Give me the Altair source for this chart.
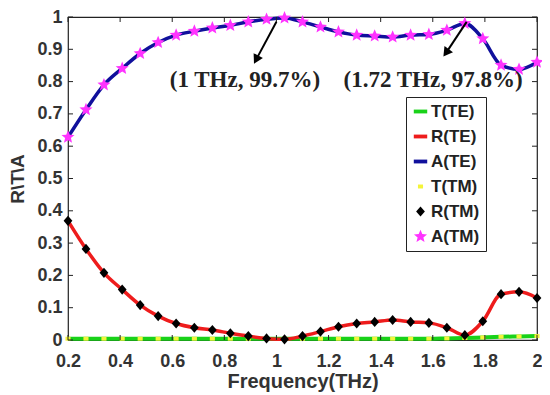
import math
import altair as alt
import pandas as pd

# Frequency samples (THz)
freq = [0.2, 0.269, 0.338, 0.408, 0.477, 0.546, 0.615, 0.685, 0.754, 0.823,
        0.892, 0.962, 1.031, 1.1, 1.169, 1.238, 1.308, 1.377, 1.446, 1.515,
        1.585, 1.654, 1.723, 1.792, 1.862, 1.931, 2.0]

# TE mode
T_TE = [0.004, 0.004, 0.004, 0.004, 0.004, 0.004, 0.004, 0.004, 0.004, 0.004,
        0.004, 0.004, 0.004, 0.004, 0.004, 0.004, 0.004, 0.004, 0.004, 0.004,
        0.004, 0.005, 0.006, 0.008, 0.010, 0.011, 0.012]
R_TE = [0.369, 0.282, 0.208, 0.156, 0.108, 0.074, 0.051, 0.038, 0.031, 0.021,
        0.012, 0.005, 0.002, 0.012, 0.026, 0.041, 0.051, 0.056, 0.062, 0.056,
        0.053, 0.038, 0.015, 0.058, 0.142, 0.149, 0.130]
A_TE = [0.628, 0.713, 0.790, 0.841, 0.887, 0.921, 0.944, 0.956, 0.966, 0.974,
        0.985, 0.993, 0.997, 0.985, 0.969, 0.954, 0.944, 0.941, 0.938, 0.944,
        0.946, 0.959, 0.980, 0.933, 0.851, 0.838, 0.860]

# TM mode (coincides with TE)
T_TM = list(T_TE)
R_TM = list(R_TE)
A_TM = list(A_TE)

series_names = ["T(TE)", "R(TE)", "A(TE)", "T(TM)", "R(TM)", "A(TM)"]
series_colors = ["#19d219", "#ee1c1c", "#10109c", "#f4f43a", "#000000", "#ff33ff"]

# symbol shapes (unit box -1..1)
def _star(ro=0.97, ri=0.43):
    pts = []
    for k in range(10):
        r = ro if k % 2 == 0 else ri
        a = math.radians(-90 + 36 * k)
        pts.append(f"{r*math.cos(a):.3f},{r*math.sin(a):.3f}")
    return "M" + "L".join(pts) + "Z"

BAR = "M-0.95,-0.27L0.95,-0.27L0.95,0.27L-0.95,0.27Z"
SQUARE = "M-0.36,-0.28L0.36,-0.28L0.36,0.28L-0.36,0.28Z"
DIAMOND = "M0,-0.72L0.62,0L0,0.72L-0.62,0Z"
series_shapes = [BAR, BAR, BAR, SQUARE, DIAMOND, _star()]

# Tick values
xticks = [0.2, 0.4, 0.6, 0.8, 1.0, 1.2, 1.4, 1.6, 1.8, 2.0]
yticks = [0, 0.1, 0.2, 0.3, 0.4, 0.5, 0.6, 0.7, 0.8, 0.9, 1.0]

# Annotations
ann_text = ["(1 THz, 99.7%)", "(1.72 THz, 97.8%)"]
ann_tx = [0.879, 1.601]
ann_ty = [0.806, 0.806]
arrow_x0 = [1.0, 1.730]
arrow_y0 = [0.985, 0.985]
arrow_x1 = [0.922, 1.651]
arrow_y1 = [0.868, 0.889]
arrow_angle = [208, 216]

W, H = 469, 323
TL = 5

te = pd.DataFrame({"f": freq, "T": T_TE, "R": R_TE, "A": A_TE})
tm = pd.concat([
    pd.DataFrame({"f": freq, "v": T_TM, "s": "T(TM)"}),
    pd.DataFrame({"f": freq, "v": R_TM, "s": "R(TM)"}),
    pd.DataFrame({"f": freq, "v": A_TM, "s": "A(TM)"}),
])
ann = pd.DataFrame({"t": ann_text, "x": ann_tx, "y": ann_ty})
arr = pd.DataFrame({"x0": arrow_x0, "y0": arrow_y0, "x1": arrow_x1,
                    "y1": arrow_y1, "a": arrow_angle})
xt = pd.DataFrame({"v": xticks})
yt = pd.DataFrame({"v": yticks})

xs = alt.Scale(domain=[0.2, 2], nice=False)
ys = alt.Scale(domain=[0, 1], nice=False)

lab = dict(labelFont="Liberation Sans", labelFontSize=18, labelFontWeight="bold",
           labelColor="#333333", titleFont="Liberation Sans",
           titleFontWeight="bold", titleColor="#333333", ticks=False,
           domain=False, grid=False, labelFlush=False, labelOverlap=False)

XA = alt.Axis(values=xticks, format="~g", title="Frequency(THz)", titleFontSize=20,
              labelPadding=12, titlePadding=1, **lab)
YA = alt.Axis(values=yticks, format="~g", title="R\\T\\A", titleFontSize=19,
              labelPadding=6, titlePadding=9, **lab)


def X(field):
    return alt.X(field, scale=xs, axis=XA)


def Y(field):
    return alt.Y(field, scale=ys, axis=YA)


base = alt.Chart(te)
green = base.mark_line(color="#19d219", strokeWidth=4, interpolate="monotone").encode(
    x=X("f:Q"), y=Y("T:Q"))
red = base.mark_line(color="#ee1c1c", strokeWidth=3.5, interpolate="monotone").encode(
    x=X("f:Q"), y=Y("R:Q"))
blue = base.mark_line(color="#10109c", strokeWidth=3.5, interpolate="monotone").encode(
    x=X("f:Q"), y=Y("A:Q"))

pts = alt.Chart(tm).mark_point(filled=True, opacity=1, size=200, strokeWidth=0).encode(
    x=X("f:Q"), y=Y("v:Q"),
    color=alt.Color("s:N", scale=alt.Scale(domain=series_names, range=series_colors),
                    legend=alt.Legend(orient="none", legendX=338, legendY=80, title=None,
                                      strokeColor="#222222", fillColor="white",
                                      padding=6, labelFont="Liberation Sans",
                                      labelFontSize=17, labelFontWeight="bold",
                                      labelColor="#222222", rowPadding=7,
                                      labelOffset=2, symbolSize=200,
                                      symbolStrokeWidth=0)),
    shape=alt.Shape("s:N", scale=alt.Scale(domain=series_names, range=series_shapes)),
)

tick_style = dict(color="#222222", strokeWidth=1)
xt_bottom = alt.Chart(xt).mark_rule(**tick_style).encode(
    x=X("v:Q"), y=alt.value(H), y2=alt.value(H - TL))
xt_top = alt.Chart(xt).mark_rule(**tick_style).encode(
    x=X("v:Q"), y=alt.value(0), y2=alt.value(TL))
yt_left = alt.Chart(yt).mark_rule(**tick_style).encode(
    y=Y("v:Q"), x=alt.value(0), x2=alt.value(TL))
yt_right = alt.Chart(yt).mark_rule(**tick_style).encode(
    y=Y("v:Q"), x=alt.value(W), x2=alt.value(W - TL))

rules = alt.Chart(arr).mark_rule(color="black", strokeWidth=2).encode(
    x=X("x0:Q"), y=Y("y0:Q"), x2="x1:Q", y2="y1:Q")
heads = alt.Chart(arr).mark_point(shape="triangle-up", filled=True, color="black",
                                  size=110, opacity=1).encode(
    x=X("x1:Q"), y=Y("y1:Q"), angle=alt.Angle("a:Q", scale=None))
texts = alt.Chart(ann).mark_text(font="Liberation Serif", fontSize=23, fontWeight="bold",
                                 color="#222222", baseline="middle", align="center").encode(
    x=X("x:Q"), y=Y("y:Q"), text="t:N")

chart = alt.layer(green, red, blue, pts, xt_bottom, xt_top, yt_left, yt_right,
                  rules, heads, texts).properties(
    width=W, height=H, autosize=alt.AutoSizeParams(type="none"),
    padding={"left": 60, "top": 9, "right": 5, "bottom": 54},
    background="white",
).configure_view(stroke="#222222", strokeWidth=1.2)

chart.save("out.html", embed_options={"renderer": "svg", "actions": False})
